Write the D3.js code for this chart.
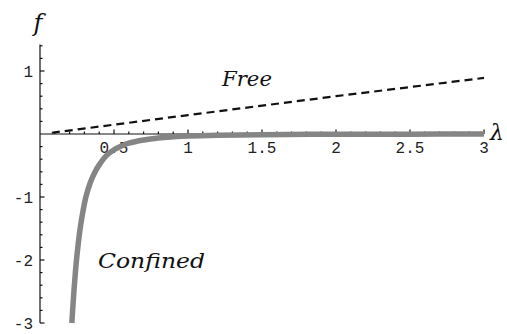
<!DOCTYPE html>
<html>
<head>
<meta charset="utf-8">
<script src="https://cdn.jsdelivr.net/npm/d3@7"></script>
<style>
  html, body { margin: 0; padding: 0; background: #fff; }
  svg { display: block; }
</style>
</head>
<body>
<svg id="chart" width="507" height="334"></svg>
<script>
// Confined-phase energy curve, f(λ)
const confinedLambda = [0.215, 0.22, 0.23, 0.24, 0.25, 0.27, 0.29, 0.31, 0.34, 0.37, 0.4, 0.45,
                        0.5, 0.55, 0.6, 0.7, 0.8, 0.9, 1.0, 1.2, 1.5, 2.0, 2.5, 3.0];
const confinedF = [-3.0, -2.82, -2.47, -2.17, -1.92, -1.52, -1.23, -1.0, -0.77, -0.61, -0.49, -0.34,
                   -0.25, -0.19, -0.145, -0.095, -0.063, -0.045, -0.032, -0.019, -0.01, -0.004, -0.002, -0.001];

// Free-phase line, f(λ)
const freeLambda = [0.08, 1.0, 2.0, 3.0];
const freeF = [0.02, 0.3, 0.6, 0.89];

// Axis ticks and labels
const xMajorTicks = [0.5, 1, 1.5, 2, 2.5, 3];
const xMajorLabels = ["0.5", "1", "1.5", "2", "2.5", "3"];
const yMajorTicks = [1, -1, -2, -3];
const yMajorLabels = ["1", "-1", "-2", "-3"];

const svg = d3.select("#chart");

const x = d3.scaleLinear().domain([0, 3]).range([40, 484]);
const y = d3.scaleLinear().domain([-3, 1]).range([323, 71]);

const yTop = 1.42;

// Minor tick positions
const xMinor = d3.range(1, 31).map(i => i / 10).filter(v => Math.abs(v * 2 - Math.round(v * 2)) > 1e-6);
const yMinor = d3.range(-15, 8).map(i => i / 5).filter(v => Math.abs(v - Math.round(v)) > 1e-6 && v <= yTop);

const line = d3.line().x(d => x(d[0])).y(d => y(d[1])).curve(d3.curveCatmullRom.alpha(0.5));

// Axes lines
const axes = svg.append("g").attr("stroke", "#111").attr("stroke-width", 1.2);
axes.append("line").attr("x1", x(0)).attr("x2", x(3)).attr("y1", y(0)).attr("y2", y(0));
axes.append("line").attr("x1", x(0)).attr("x2", x(0)).attr("y1", y(yTop)).attr("y2", y(-3));

// x ticks point upward
axes.selectAll(".xmin").data(xMinor).join("line")
  .attr("x1", d => x(d)).attr("x2", d => x(d)).attr("y1", y(0)).attr("y2", y(0) - 2.5);
axes.selectAll(".xmaj").data(xMajorTicks).join("line")
  .attr("x1", d => x(d)).attr("x2", d => x(d)).attr("y1", y(0)).attr("y2", y(0) - 4.5);

// y ticks point right
axes.selectAll(".ymin").data(yMinor).join("line")
  .attr("x1", x(0)).attr("x2", x(0) + 2.5).attr("y1", d => y(d)).attr("y2", d => y(d));
axes.selectAll(".ymaj").data(yMajorTicks).join("line")
  .attr("x1", x(0)).attr("x2", x(0) + 4.5).attr("y1", d => y(d)).attr("y2", d => y(d));

// Tick labels
const tickFont = "'Liberation Mono', 'DejaVu Sans Mono', monospace";
svg.append("g").selectAll("text").data(xMajorTicks).join("text")
  .attr("x", d => x(d)).attr("y", 153)
  .attr("text-anchor", "middle")
  .attr("font-family", tickFont).attr("font-size", 16).attr("fill", "#222")
  .text((d, i) => xMajorLabels[i]);

svg.append("g").selectAll("text").data(yMajorTicks).join("text")
  .attr("x", 33).attr("y", d => y(d) + 5.5)
  .attr("text-anchor", "end")
  .attr("font-family", tickFont).attr("font-size", 16).attr("fill", "#222")
  .text((d, i) => yMajorLabels[i]);

// Free line (dashed)
svg.append("path")
  .datum(freeLambda.map((l, i) => [l, freeF[i]]))
  .attr("d", d3.line().x(d => x(d[0])).y(d => y(d[1])))
  .attr("fill", "none").attr("stroke", "#111").attr("stroke-width", 2.2)
  .attr("stroke-dasharray", "8,5");

// Confined curve (thick grey)
svg.append("path")
  .datum(confinedLambda.map((l, i) => [l, confinedF[i]]))
  .attr("d", line)
  .attr("fill", "none").attr("stroke", "#858585").attr("stroke-width", 5.5)
  .attr("stroke-linecap", "butt");

// Labels
const serifItalic = "'DejaVu Serif', 'Liberation Serif', serif";
svg.append("text").attr("x", 38).attr("y", 31).attr("text-anchor", "middle")
  .attr("font-family", serifItalic).attr("font-style", "italic").attr("font-size", 24)
  .attr("fill", "#111").text("f");
svg.append("text").attr("x", 490).attr("y", 140)
  .attr("font-family", serifItalic).attr("font-style", "italic").attr("font-size", 22)
  .attr("fill", "#111").text("λ");
svg.append("text").attr("x", 222).attr("y", 86)
  .attr("font-family", serifItalic).attr("font-style", "italic").attr("font-size", 21)
  .attr("fill", "#111").attr("textLength", 50).attr("lengthAdjust", "spacingAndGlyphs").text("Free");
svg.append("text").attr("x", 98).attr("y", 268)
  .attr("font-family", serifItalic).attr("font-style", "italic").attr("font-size", 21)
  .attr("fill", "#111").attr("textLength", 107).attr("lengthAdjust", "spacingAndGlyphs").text("Confined");
</script>
</body>
</html>
